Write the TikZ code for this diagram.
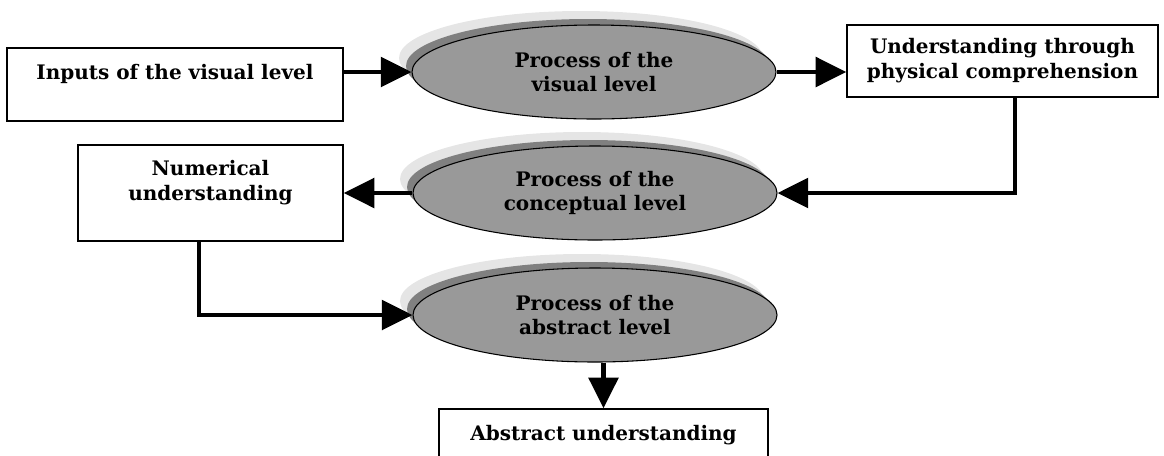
\documentclass[tikz,border=0pt]{standalone}
\usepackage{fontspec}
\setmainfont{DejaVu Serif}
\usetikzlibrary{arrows.meta, shapes.geometric, shadows}

\begin{document}
\begin{tikzpicture}[
    x=0.75pt, y=-0.75pt,
    flow/.style={line width=3.6pt, -{Triangle[length=23pt, width=22pt]}},
    stage/.style={draw, line width=1.1pt, fill=white, inner sep=0pt, align=center,
        font=\fontsize{15}{18.75}\selectfont\bfseries},
    process/.style={ellipse, draw, line width=0.8pt, fill=black!40, inner sep=0pt,
        minimum width=273pt, minimum height=70.5pt, align=center,
        font=\fontsize{15}{18}\selectfont\bfseries,
        general shadow={fill=black!10, shadow xshift=-9.75pt, shadow yshift=10.5pt},
        general shadow={fill=black!50, shadow xshift=-4.5pt, shadow yshift=4.5pt}},
]

% the page is the reference frame
\clip (0,0) rectangle (1164,455);

% =============================================================================
% Outcomes (boxes)
% =============================================================================
\node[stage, minimum width=252pt, minimum height=54.75pt] (inputs) at (175,84.5)
    {Inputs of the visual level\\\mbox{}};
\node[stage, minimum width=233.25pt, minimum height=54pt] (physical) at (1002.5,61)
    {Understanding through\\physical comprehension};
\node[stage, minimum width=198.75pt, minimum height=72pt] (numerical) at (210.5,193)
    {Numerical\\understanding\\\mbox{}};
\node[stage, minimum width=246.75pt, minimum height=54.75pt] (abstract) at (603.5,445.5)
    {Abstract understanding\\\mbox{}};

% =============================================================================
% Processes (shadowed ellipses)
% =============================================================================
\node[process] (visual) at (594,72) {Process of the\\visual level};
\node[process] (conceptual) at (595,193) {Process of the\\conceptual level};
\node[process] (abstr) at (595,315) {Process of the\\abstract level};

% --- Flow ---
\draw[flow] (inputs.east |- visual.west) -- (visual.west);
\draw[flow] (visual.east) -- (visual.east -| physical.west);
\draw[flow] ([xshift=9.4pt]physical.south) |- (conceptual.east);
\draw[flow] (conceptual.west) -- (numerical.east);
\draw[flow] ([xshift=-8.6pt]numerical.south) |- (abstr.west);
\draw[flow] (abstract.north |- abstr.south) -- (abstract.north);

\end{tikzpicture}
\end{document}
